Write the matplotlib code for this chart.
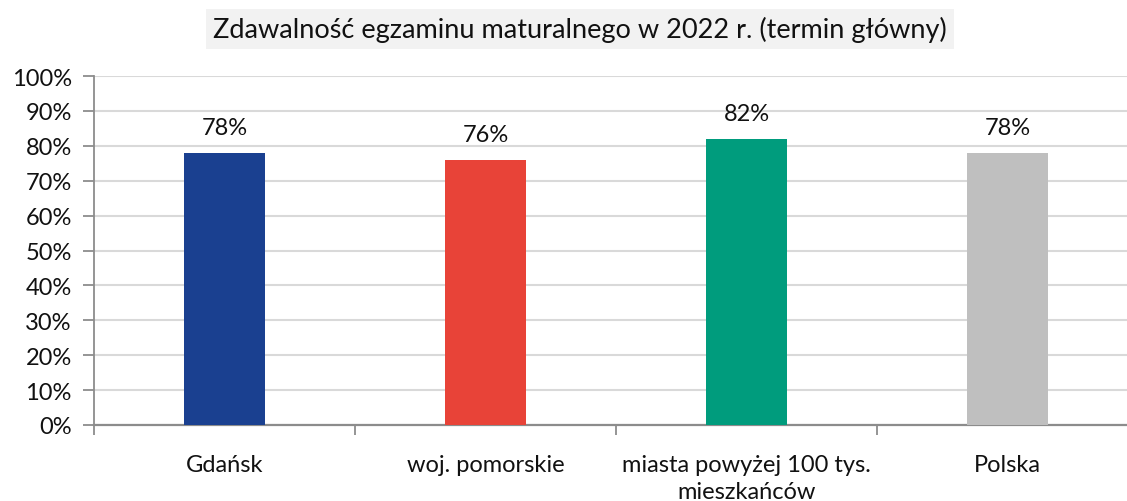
import matplotlib
matplotlib.use("Agg")
import matplotlib.pyplot as plt
from matplotlib.ticker import FixedLocator, PercentFormatter

categories = ["Gdańsk", "woj. pomorskie", "miasta powyżej 100 tys.\nmieszkańców", "Polska"]
values = [78, 76, 82, 78]
labels = ["78%", "76%", "82%", "78%"]
colors = ["#1A4090", "#E84338", "#009C7D", "#BFBFBF"]
yticks = list(range(0, 101, 10))
title = "Zdawalność egzaminu maturalnego w 2022 r. (termin główny)"

plt.rcParams['font.family'] = ['Lato', 'DejaVu Sans']
W, H = 1127, 502
fig = plt.figure(figsize=(W / 100, H / 100), dpi=100)
ax = fig.add_axes([94 / W, (H - 426) / H, 1044 / W, 349 / H])

FS = 17
x = list(range(len(categories)))
bars = ax.bar(x, values, width=0.314, color=colors, zorder=3)
for xi, v, lab in zip(x, values, labels):
    ax.annotate(lab, (xi, v), xytext=(0, 13.7), textcoords="offset points",
                ha="center", va="baseline", fontsize=FS, color="#111111")

ax.set_xlim(-0.5, len(categories) - 0.5)
ax.set_ylim(0, 100)
ax.set_yticks(yticks)
ax.yaxis.set_major_formatter(PercentFormatter(decimals=0))
ax.yaxis.grid(True, color="#D9D9D9", linewidth=1.5, zorder=0)
ax.set_xticks(x)
ax.set_xticklabels(categories, fontsize=FS, color="#111111", linespacing=1.35)
ax.xaxis.set_minor_locator(FixedLocator([i + 0.5 for i in range(-1, len(categories))]))
ax.tick_params(axis="x", which="major", length=0, pad=21)
ax.tick_params(axis="x", which="minor", length=7, width=1.3, color="#8C8C8C", direction="out")
ax.tick_params(axis="y", length=8, width=1.3, color="#8C8C8C", labelsize=FS,
               labelcolor="#111111", pad=8)
for s in ["top", "right"]:
    ax.spines[s].set_visible(False)
ax.spines["left"].set_color("#8C8C8C")
ax.spines["left"].set_linewidth(1.3)
ax.spines["bottom"].set_color("#8C8C8C")
ax.spines["bottom"].set_linewidth(1.6)

fig.text(580 / W, 1 - 30 / H, title, ha="center", va="center", fontsize=19.5,
         color="#111111",
         bbox=dict(boxstyle="square,pad=0.25", facecolor="#F2F2F2", edgecolor="none"))

fig.savefig("out.png", dpi=100)
